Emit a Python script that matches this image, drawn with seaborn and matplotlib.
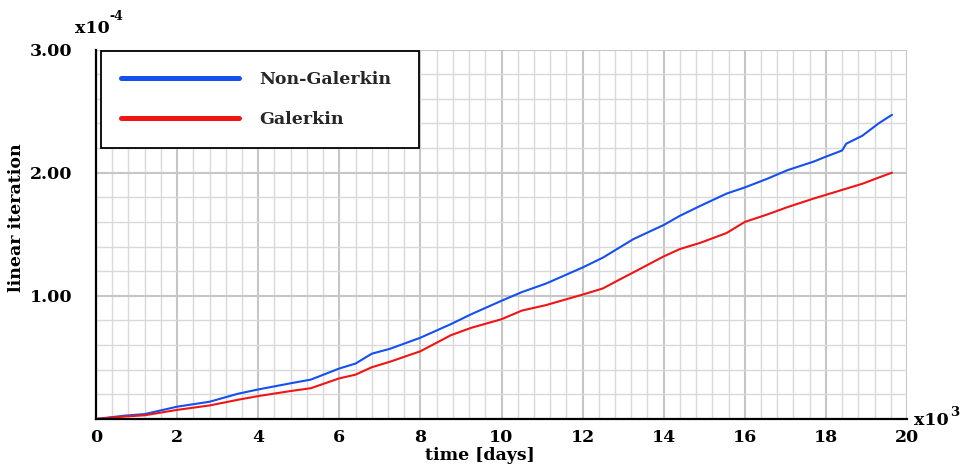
import matplotlib
matplotlib.use("Agg")
import matplotlib.pyplot as plt
from matplotlib.ticker import MultipleLocator, FixedLocator
from matplotlib.lines import Line2D
import seaborn as sns
import pandas as pd

# time in thousands of days, linear iteration in units of 1e-4
time_kdays = [0, 0.7, 1.2, 2.0, 2.8, 3.5, 4.0, 4.8, 5.3, 6.0, 6.4, 6.8, 7.25,
              8.0, 8.75, 9.25, 10.0, 10.5, 11.1, 12.0, 12.5, 12.9, 13.25, 14.0,
              14.4, 14.9, 15.55, 16.0, 16.55, 17.05, 17.7, 18.0, 18.4, 18.5,
              18.9, 19.3, 19.63]
non_galerkin = [0, 0.027, 0.04, 0.10, 0.14, 0.205, 0.24, 0.29, 0.32, 0.41, 0.45,
                0.53, 0.57, 0.66, 0.77, 0.85, 0.96, 1.03, 1.10, 1.23, 1.31, 1.39,
                1.46, 1.575, 1.65, 1.73, 1.83, 1.88, 1.95, 2.02, 2.09, 2.13, 2.18,
                2.235, 2.30, 2.40, 2.47]
galerkin = [0, 0.02, 0.03, 0.074, 0.11, 0.156, 0.186, 0.227, 0.25, 0.33, 0.36,
            0.42, 0.465, 0.55, 0.68, 0.74, 0.81, 0.88, 0.925, 1.01, 1.06, 1.13,
            1.19, 1.32, 1.38, 1.43, 1.51, 1.60, 1.66, 1.72, 1.79, 1.82, 1.86,
            1.87, 1.91, 1.96, 2.00]
series_names = ["Non-Galerkin", "Galerkin"]
series_colors = ["#1450f0", "#f01414"]
x_ticks = [0, 2, 4, 6, 8, 10, 12, 14, 16, 18, 20]
y_ticks = [1.0, 2.0, 3.0]
y_tick_labels = ["1.00", "2.00", "3.00"]

df = pd.DataFrame({
    "time": time_kdays * 2,
    "value": non_galerkin + galerkin,
    "method": [series_names[0]] * len(time_kdays) + [series_names[1]] * len(time_kdays),
})

sns.set_theme(style="white")
plt.rcParams["font.family"] = ["DejaVu Serif"]
plt.rcParams["font.weight"] = "bold"

FS = 12.5
TICK_FS = 12.5
W, H = 962, 474
fig = plt.figure(figsize=(W / 100, H / 100), dpi=100)
L, R, B, T = 96, 907, 419, 49.5
ax = fig.add_axes([L / W, 1 - B / H, (R - L) / W, (B - T) / H])

# grid: light minor lines, slightly heavier at the labelled values
ax.set_xlim(0, 20)
ax.set_ylim(0, 3)
for xv in [i * 0.4 for i in range(1, 51)]:
    major = abs(xv / 2 - round(xv / 2)) < 1e-6
    ax.axvline(xv, color="#c6c6c6" if major else "#d9d9d9",
               lw=1.5 if major else 1.0, zorder=0)
for yv in [i * 0.2 for i in range(1, 16)]:
    major = abs(yv - round(yv)) < 1e-6
    ax.axhline(yv, color="#c6c6c6" if major else "#d9d9d9",
               lw=1.5 if major else 1.0, zorder=0)

sns.lineplot(data=df, x="time", y="value", hue="method",
             palette=dict(zip(series_names, series_colors)),
             linewidth=1.5, ax=ax, zorder=3, legend=False)

# axes styling
for side in ["top", "right"]:
    ax.spines[side].set_visible(False)
for side in ["left", "bottom"]:
    ax.spines[side].set_color("black")
    ax.spines[side].set_linewidth(1.6)
    ax.spines[side].set_zorder(4)

ax.xaxis.set_major_locator(FixedLocator(x_ticks))
ax.set_xticklabels([str(v) for v in x_ticks])
ax.xaxis.set_minor_locator(MultipleLocator(0.4))
ax.yaxis.set_major_locator(FixedLocator(y_ticks))
ax.set_yticklabels(y_tick_labels)
ax.yaxis.set_minor_locator(MultipleLocator(0.2))

ax.tick_params(axis="x", which="major", direction="out", length=5, width=1.5,
               color="black", pad=2.5, labelsize=TICK_FS, labelcolor="black")
ax.tick_params(axis="x", which="minor", direction="out", length=3, width=1.0,
               color="black")
ax.tick_params(axis="y", which="major", direction="out", length=13.5, width=1.5,
               color="black", pad=3.5, labelsize=TICK_FS, labelcolor="black")
ax.tick_params(axis="y", which="minor", direction="out", length=8, width=0.9,
               color="black")
ax.set_xlabel("")
ax.set_ylabel("")

# axis titles
fig.text(480 / W, 1 - 456 / H, "time [days]", ha="center", va="center",
         fontsize=FS, fontweight="bold", color="black")
fig.text(17 / W, 1 - 218 / H, "linear iteration", ha="center", va="center",
         rotation=90, fontsize=FS, fontweight="bold", color="black")

# scale multipliers
fig.text(75 / W, 1 - 33 / H, "x10", ha="left", va="baseline",
         fontsize=FS, fontweight="bold", color="black")
fig.text(109 / W, 1 - 20 / H, "-4", ha="left", va="baseline",
         fontsize=9, fontweight="bold", color="black")
fig.text(914 / W, 1 - 425 / H, "x10", ha="left", va="baseline",
         fontsize=FS, fontweight="bold", color="black")
fig.text(950 / W, 1 - 416 / H, "3", ha="left", va="baseline",
         fontsize=9.5, fontweight="bold", color="black")

# legend
handles = [Line2D([0], [0], color=c, lw=3.6, solid_capstyle="round")
           for c in series_colors]
leg = ax.legend(handles, series_names, loc="upper left",
                bbox_to_anchor=((101 - L) / (R - L), 1 - (50.7 - T) / (B - T),
                                (419 - 101) / (R - L), 0.0),
                mode="expand", frameon=True, fancybox=False, framealpha=1,
                edgecolor="black", borderpad=1.15, labelspacing=1.32,
                handlelength=6.8, handletextpad=1.15, borderaxespad=0,
                prop={"size": FS, "weight": "bold", "family": "DejaVu Serif"})
leg.get_frame().set_linewidth(1.3)
leg.set_zorder(5)

fig.savefig("out.png", dpi=100)
